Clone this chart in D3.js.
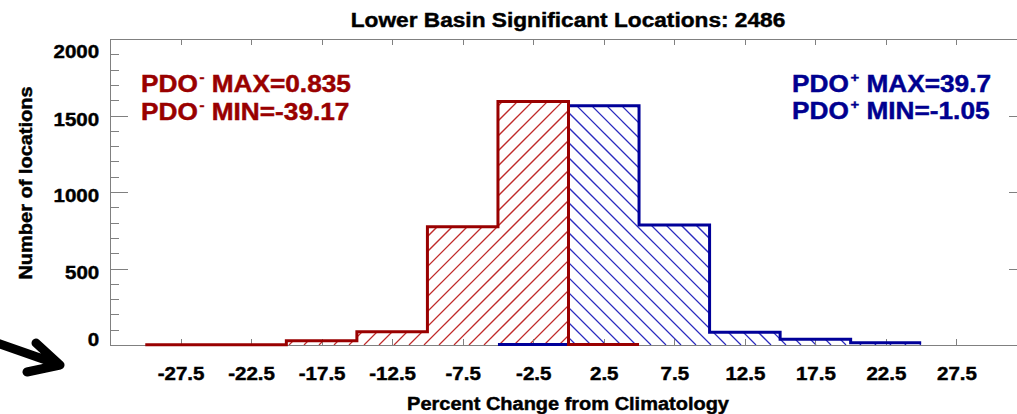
<!DOCTYPE html>
<html>
<head>
<meta charset="utf-8">
<script src="https://cdn.jsdelivr.net/npm/d3@7"></script>
<style>
  html, body { margin: 0; padding: 0; background: #fff; }
  svg { display: block; }
</style>
</head>
<body>
<div id="chart"></div>
<script>
// Histogram of percent change, PDO- (red) and PDO+ (blue)
const chartTitle = "Lower Basin Significant Locations: 2486";
const xTickValues = [-27.5, -22.5, -17.5, -12.5, -7.5, -2.5, 2.5, 7.5, 12.5, 17.5, 22.5, 27.5];
const yTickValues = [0, 500, 1000, 1500, 2000];
const binWidth = 5;

// bin left edges and counts
const pdoNegBins = [-30, -25, -20, -15, -10, -5, 0];
const pdoNegCounts = [2, 2, 28, 87, 773, 1591, 3];
const pdoPosBins = [-5, 0, 5, 10, 15, 20];
const pdoPosCounts = [3, 1564, 784, 83, 37, 15];

const pdoNegLines = ["MAX=0.835", "MIN=-39.17"];
const pdoPosLines = ["MAX=39.7", "MIN=-1.05"];

const width = 1017, height = 414;
const FONT = "'Liberation Sans', Arial, Helvetica, sans-serif";
const SX = 1.08; // slight horizontal stretch of the original lettering
const red = "#990000", blue = "#000099", axisColor = "#808080";

const svg = d3.select("#chart").append("svg")
  .attr("width", width)
  .attr("height", height);

const x = d3.scaleLinear().domain([-32.5, 32.5]).range([110, 1027]);
const y = d3.scaleLinear().domain([0, 2000]).range([345, 39]);

function stepPoints(bins, counts) {
  const pts = bins.map((b, i) => [b, counts[i]]);
  pts.push([bins[bins.length - 1] + binWidth, counts[counts.length - 1]]);
  return pts;
}

const area = d3.area()
  .x(d => x(d[0]))
  .y0(y(0))
  .y1(d => y(d[1]))
  .curve(d3.curveStepAfter);

const line = d3.line()
  .x(d => x(d[0]))
  .y(d => y(d[1]))
  .curve(d3.curveStepAfter);

const negPts = stepPoints(pdoNegBins, pdoNegCounts);
const posPts = stepPoints(pdoPosBins, pdoPosCounts);

// Hatching: diagonal lines clipped to the area under each histogram
const defs = svg.append("defs");
defs.append("clipPath").attr("id", "clipNeg").append("path").attr("d", area(negPts));
defs.append("clipPath").attr("id", "clipPos").append("path").attr("d", area(posPts));

const plotH = y(0) - y(2000);
const spacing = 15;

function hatch(clipId, pts, color, dir, phase) {
  const x0 = x(pts[0][0]) - plotH - spacing;
  const x1 = x(pts[pts.length - 1][0]) + plotH + spacing;
  const offsets = d3.range(Math.floor(x0 / spacing) * spacing + phase, x1, spacing);
  svg.append("g")
    .attr("clip-path", `url(#${clipId})`)
    .selectAll("line")
    .data(offsets)
    .join("line")
    .attr("x1", d => d)
    .attr("y1", y(0))
    .attr("x2", d => d + dir * plotH)
    .attr("y2", y(2000))
    .attr("stroke", color)
    .attr("stroke-width", 1.25)
    .attr("fill", "none");
}

hatch("clipNeg", negPts, "#c02a2a", 1, 4);
hatch("clipPos", posPts, "#2a2ac0", -1, 6);

// Axes
const axes = svg.append("g")
  .attr("font-family", FONT)
  .attr("font-weight", "bold");

function styleAxis(g) {
  g.selectAll("path.domain").attr("stroke", axisColor).attr("shape-rendering", "crispEdges");
  g.selectAll(".tick line").attr("stroke", axisColor).attr("shape-rendering", "crispEdges");
}

function heavy(sel, color) {
  sel.attr("stroke", color).attr("stroke-width", 0.45).attr("paint-order", "stroke");
}

// left, minor ticks
axes.append("g")
  .attr("transform", `translate(${x.range()[0]},0)`)
  .call(d3.axisLeft(y).tickValues(d3.range(0, 2001, 100)).tickSize(-9).tickFormat(""))
  .call(styleAxis);

// left, major ticks + labels
const yAxisG = axes.append("g")
  .attr("transform", `translate(${x.range()[0]},0)`)
  .call(d3.axisLeft(y).tickValues(yTickValues).tickSize(-18).tickPadding(10).tickFormat(d3.format("d")))
  .call(styleAxis);

yAxisG.selectAll(".tick text")
  .attr("fill", "#000")
  .attr("font-size", 19)
  .attr("dy", null)
  .attr("y", d => {
    const base = y(d) + 9.7;
    return Math.max(Math.min(base, y(0)), y(2000) + 18.3) - y(d);
  })
  .attr("transform", `scale(${SX},1)`)
  .call(heavy, "#000");

// right axis
axes.append("g")
  .attr("transform", `translate(${x.range()[1]},0)`)
  .call(d3.axisRight(y).tickValues(d3.range(0, 2001, 100)).tickSize(-9).tickFormat(""))
  .call(styleAxis);
axes.append("g")
  .attr("transform", `translate(${x.range()[1]},0)`)
  .call(d3.axisRight(y).tickValues(yTickValues).tickSize(-18).tickFormat(""))
  .call(styleAxis);

// bottom
const xAxisG = axes.append("g")
  .attr("transform", `translate(0,${y.range()[0]})`)
  .call(d3.axisBottom(x).tickValues(xTickValues).tickSize(-6).tickFormat(d => d.toFixed(1)))
  .call(styleAxis);

xAxisG.selectAll(".tick text")
  .attr("fill", "#000")
  .attr("font-size", 19)
  .attr("dy", null)
  .attr("y", 35)
  .attr("transform", `scale(${SX},1)`)
  .call(heavy, "#000");

// top
axes.append("g")
  .attr("transform", `translate(0,${y.range()[1]})`)
  .call(d3.axisTop(x).tickValues(xTickValues).tickSize(-6).tickFormat(""))
  .call(styleAxis);

// Outlines
svg.append("path").attr("d", line(posPts))
  .attr("fill", "none").attr("stroke", blue).attr("stroke-width", 3);
svg.append("path").attr("d", line(negPts))
  .attr("fill", "none").attr("stroke", red).attr("stroke-width", 3);

// Texts
function addText(px, py, size, anchor, color, sx = SX) {
  return svg.append("text")
    .attr("transform", `translate(${px},${py}) scale(${sx},1)`)
    .attr("font-family", FONT)
    .attr("font-weight", "bold")
    .attr("font-size", size)
    .attr("text-anchor", anchor)
    .attr("fill", color)
    .call(heavy, color);
}

addText(568, 27, 21, "middle", "#000").text(chartTitle);
addText(568, 410, 18.5, "middle", "#000").text("Percent Change from Climatology");

svg.append("text")
  .attr("transform", `translate(31.5,183) rotate(-90) scale(${SX},1)`)
  .attr("font-family", FONT)
  .attr("font-weight", "bold")
  .attr("font-size", 18.5)
  .attr("text-anchor", "middle")
  .call(heavy, "#000")
  .text("Number of locations");

function pdoLabel(px, py, sign, rest, color) {
  const t = addText(px, py, 23, "start", color, 1.14);
  t.append("tspan").text("PDO");
  t.append("tspan").attr("font-size", 13).attr("dy", -10).attr("dx", 1.5).text(sign);
  t.append("tspan").attr("dy", 10).text(" " + rest);
}

pdoNegLines.forEach((s, i) => pdoLabel(141, 91.5 + i * 28.5, "-", s, red));
pdoPosLines.forEach((s, i) => pdoLabel(792, 91.5 + i * 27, "+", s, "#000090"));

// Arrow at lower left
svg.append("path")
  .attr("d", "M-6,342 L60,365 M36,343 L60,365 L27,372")
  .attr("fill", "none")
  .attr("stroke", "#000")
  .attr("stroke-width", 9)
  .attr("stroke-linecap", "round")
  .attr("stroke-linejoin", "round");
</script>
</body>
</html>
